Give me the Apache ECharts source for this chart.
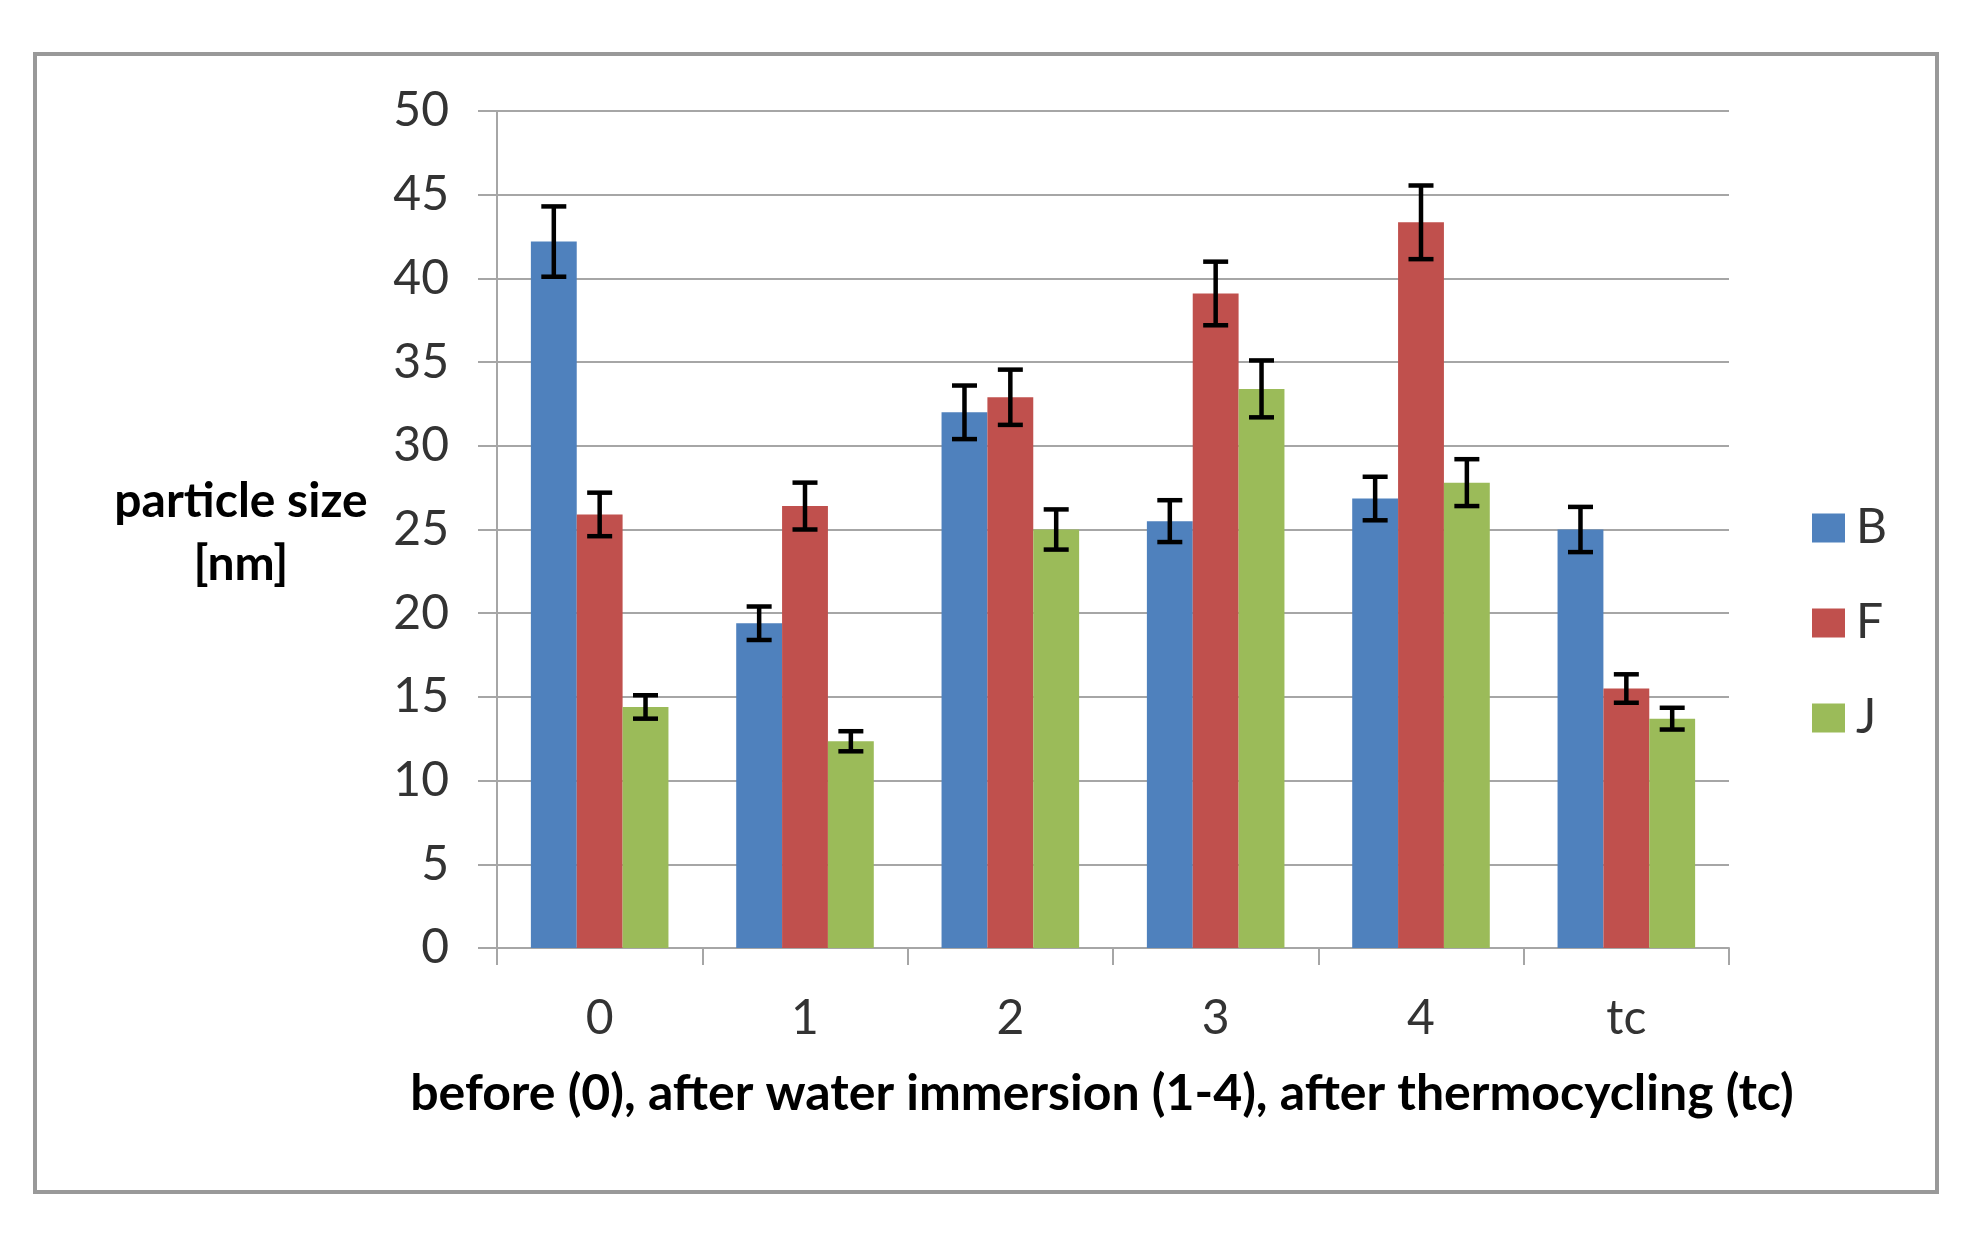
<!DOCTYPE html>
<html>
<head>
<meta charset="utf-8">
<title>particle size</title>
<script src="https://cdn.jsdelivr.net/npm/echarts@6/dist/echarts.min.js"></script>
<style>
  html, body { margin: 0; padding: 0; background: #fff; }
  #chart { width: 1980px; height: 1236px; }
</style>
</head>
<body>
<div id="chart"></div>
<script>
// categories on the x axis
var categories = ['0', '1', '2', '3', '4', 'tc'];

// mean particle size [nm] per series
var valuesB = [42.2, 19.4, 32.0, 25.5, 26.85, 25.0];
var valuesF = [25.9, 26.4, 32.9, 39.1, 43.35, 15.5];
var valuesJ = [14.4, 12.35, 25.0, 33.4, 27.8, 13.7];

// error bar half-widths (+/-)
var errB = [2.1, 1.0, 1.6, 1.25, 1.3, 1.35];
var errF = [1.3, 1.4, 1.65, 1.9, 2.2, 0.85];
var errJ = [0.7, 0.6, 1.2, 1.7, 1.4, 0.65];

var seriesNames = ['B', 'F', 'J'];
var yTicks = [0, 5, 10, 15, 20, 25, 30, 35, 40, 45, 50];

var FONT = 'Lato, "Open Sans", sans-serif';
var COLORS = ['#4F81BD', '#C0504D', '#9BBB59'];
var GRID_GRAY = '#a6a6a6';
var GAP = 0.33; // barCategoryGap

function errorSeries(idx, values, errs) {
    var data = values.map(function (v, i) { return [i, v - errs[i], v + errs[i]]; });
    return {
        name: seriesNames[idx] + ' err',
        type: 'custom',
        z: 10,
        data: data,
        encode: { x: 0, y: [1, 2] },
        renderItem: function (params, api) {
            var band = api.size([1, 0])[0];
            var barW = band * (1 - GAP) / 3;
            var c = api.coord([api.value(0), 0]);
            var x = c[0] + (idx - 1) * barW;
            var lo = api.coord([api.value(0), api.value(1)])[1];
            var hi = api.coord([api.value(0), api.value(2)])[1];
            var cap = 12.5;
            var style = { stroke: '#000', lineWidth: 4.5, fill: null };
            return {
                type: 'group',
                children: [
                    { type: 'line', shape: { x1: x, y1: lo, x2: x, y2: hi }, style: style },
                    { type: 'line', shape: { x1: x - cap, y1: hi, x2: x + cap, y2: hi }, style: style },
                    { type: 'line', shape: { x1: x - cap, y1: lo, x2: x + cap, y2: lo }, style: style }
                ]
            };
        }
    };
}

var chart = echarts.init(document.getElementById('chart'));

chart.setOption({
    backgroundColor: '#fff',
    animation: false,
    grid: { left: 497, right: 251, top: 111, bottom: 288 },
    legend: {
        data: seriesNames,
        orient: 'vertical',
        left: 1807,
        top: 499,
        itemWidth: 33,
        itemHeight: 29,
        itemGap: 47,
        icon: 'rect',
        textStyle: { fontFamily: FONT, fontSize: 48, color: '#333', padding: [0, 0, 0, 6] }
    },
    xAxis: {
        type: 'category',
        data: categories,
        name: 'before (0), after water immersion (1-4), after thermocycling (tc)',
        nameLocation: 'middle',
        nameGap: 121,
        nameTextStyle: { fontFamily: FONT, fontSize: 50, fontWeight: 'bold', color: '#000', padding: [0, 22, 0, 0] },
        axisLine: { lineStyle: { color: GRID_GRAY, width: 2 } },
        axisTick: { show: true, length: 17, lineStyle: { color: GRID_GRAY, width: 2 } },
        axisLabel: { fontFamily: FONT, fontSize: 48, color: '#333', margin: 47 }
    },
    yAxis: {
        type: 'value',
        min: yTicks[0],
        max: yTicks[yTicks.length - 1],
        interval: 5,
        axisLine: { show: true, lineStyle: { color: GRID_GRAY, width: 2 } },
        axisTick: { show: true, length: 19, lineStyle: { color: GRID_GRAY, width: 2 } },
        axisLabel: { fontFamily: FONT, fontSize: 48, color: '#333', margin: 48 },
        splitLine: { lineStyle: { color: GRID_GRAY, width: 2 } }
    },
    graphic: [
        {
            type: 'rect',
            shape: { x: 35, y: 54, width: 1902, height: 1138 },
            style: { fill: null, stroke: '#999', lineWidth: 4 },
            silent: true
        },
        {
            type: 'text',
            x: 241,
            y: 533,
            style: {
                text: 'particle size\n[nm]',
                fontFamily: FONT,
                fontSize: 48,
                fontWeight: 'bold',
                fill: '#000',
                align: 'center',
                verticalAlign: 'middle',
                lineHeight: 63
            }
        }
    ],
    series: [
        { name: 'B', type: 'bar', data: valuesB, itemStyle: { color: COLORS[0] }, barGap: '0%', barCategoryGap: '33%' },
        { name: 'F', type: 'bar', data: valuesF, itemStyle: { color: COLORS[1] }, barGap: '0%', barCategoryGap: '33%' },
        { name: 'J', type: 'bar', data: valuesJ, itemStyle: { color: COLORS[2] }, barGap: '0%', barCategoryGap: '33%' },
        errorSeries(0, valuesB, errB),
        errorSeries(1, valuesF, errF),
        errorSeries(2, valuesJ, errJ)
    ]
});
</script>
</body>
</html>
